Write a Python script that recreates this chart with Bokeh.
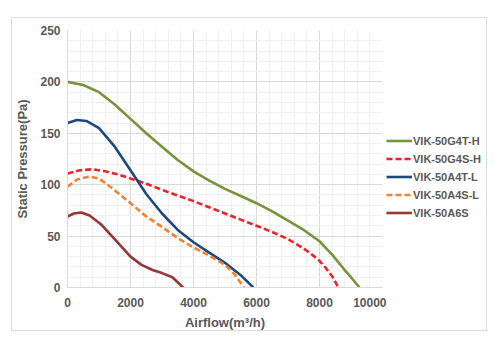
from bokeh.plotting import figure
from bokeh.layouts import row
from bokeh.models import Range1d, Legend, LegendItem, SingleIntervalTicker
from bokeh.embed import file_html
from bokeh.resources import INLINE

# ---- data ----
g4t_h_x = [0, 500, 1000, 1500, 2000, 2500, 3000, 3500, 4000, 4500, 5000, 5500, 6000, 6500, 7000, 7500, 8000, 8400, 8800, 9000, 9270]
g4t_h_y = [200, 197, 190, 178, 164, 150, 137, 124, 113, 104, 96, 89, 82, 74, 65, 56, 45, 32, 17, 10, 0]

g4s_h_x = [0, 400, 800, 1200, 1600, 2000, 2500, 3000, 3500, 4000, 4500, 5000, 5500, 6000, 6500, 7000, 7500, 7800, 8000, 8200, 8400, 8600]
g4s_h_y = [111, 114, 115, 113, 110, 106, 101, 95, 89.5, 84, 78, 72, 66, 60, 54, 47, 38, 31, 26, 19, 11, 0]

a4t_l_x = [0, 300, 600, 1000, 1500, 2000, 2500, 3000, 3500, 4000, 4500, 5000, 5500, 5900]
a4t_l_y = [160, 163, 162, 155, 137, 114, 91, 72, 56, 44, 34, 24, 12, 0]

a4s_l_x = [0, 300, 700, 1000, 1400, 2000, 2500, 3000, 3500, 4000, 4500, 5000, 5300, 5600]
a4s_l_y = [98, 105, 108, 106, 97, 82, 69, 59, 48, 39, 31, 22, 13, 0]

a6s_x = [0, 200, 440, 700, 1080, 1555, 2000, 2350, 2700, 3000, 3330, 3670]
a6s_y = [69, 72, 73, 70, 61, 45, 30, 22, 17, 14, 10, 0]

names = ["VIK-50G4T-H", "VIK-50G4S-H", "VIK-50A4T-L", "VIK-50A4S-L", "VIK-50A6S"]
colors = ["#77933C", "#F0202A", "#1F497D", "#F08232", "#953735"]
dashes = ["solid", "6 3", "solid", "6 3", "solid"]

FONT = "Liberation Sans"
GREY = "#595959"
BORDER = "1px solid #dcdcdc"

series = [(g4t_h_x, g4t_h_y), (g4s_h_x, g4s_h_y), (a4t_l_x, a4t_l_y), (a4s_l_x, a4s_l_y), (a6s_x, a6s_y)]

p = figure(width=375, height=314, output_backend="svg", toolbar_location=None,
           x_range=Range1d(0, 10000), y_range=Range1d(0, 250))
p.styles = {"border-left": BORDER, "border-top": BORDER, "border-bottom": BORDER,
            "box-sizing": "border-box"}
p.min_border_left = 55
p.min_border_right = 5
p.min_border_top = 12
p.min_border_bottom = 43
p.outline_line_color = None
p.background_fill_color = "white"
p.border_fill_color = "white"

p.xaxis.ticker = SingleIntervalTicker(interval=2000, num_minor_ticks=5)
p.yaxis.ticker = SingleIntervalTicker(interval=50, num_minor_ticks=5)

for ax in (p.xaxis[0], p.yaxis[0]):
    ax.major_label_text_font = FONT
    ax.major_label_text_font_style = "bold"
    ax.major_label_text_font_size = "12px"
    ax.major_label_text_color = GREY
    ax.axis_label_text_font = FONT
    ax.axis_label_text_font_style = "bold"
    ax.axis_label_text_font_size = "13px"
    ax.axis_label_text_color = GREY
    ax.axis_line_color = "#d9d9d9"
    ax.major_tick_line_color = None
    ax.minor_tick_line_color = None
    ax.major_tick_out = 0
    ax.major_tick_in = 0

p.xaxis.axis_label = "Airflow(m³/h)"
p.yaxis.axis_label = "Static Pressure(Pa)"
p.xaxis.major_label_standoff = 6
p.yaxis.major_label_standoff = 3
p.xaxis.axis_label_standoff = 5
p.yaxis.axis_label_standoff = 7

p.xgrid.grid_line_color = "#d9d9d9"
p.ygrid.grid_line_color = "#d9d9d9"
p.xgrid.minor_grid_line_color = "#f0f0f0"
p.ygrid.minor_grid_line_color = "#f0f0f0"

for (xs, ys), c, d in zip(series, colors, dashes):
    p.line(xs, ys, line_color=c, line_width=2.6, line_dash=d, line_join="round")

# legend panel: a small figure to the right; its own copies of the series lie outside its view
lg = figure(width=101, height=314, output_backend="svg", toolbar_location=None,
            x_range=Range1d(-2, -1), y_range=Range1d(-2, -1))
lg.styles = {"border-right": BORDER, "border-top": BORDER, "border-bottom": BORDER,
             "box-sizing": "border-box"}
lg.axis.visible = False
lg.grid.visible = False
lg.outline_line_color = None
lg.min_border_left = 0
lg.min_border_right = 0
lg.min_border_top = 0
lg.min_border_bottom = 0
items = []
for (xs, ys), name, c, d in zip(series, names, colors, dashes):
    r = lg.line(xs, ys, line_color=c, line_width=2.6, line_dash=d)
    items.append(LegendItem(label=name, renderers=[r]))

legend = Legend(items=items, location=(0, 66), orientation="vertical",
                background_fill_alpha=0, border_line_color=None,
                glyph_width=26, glyph_height=17, label_height=17,
                label_standoff=1, spacing=1, padding=0, margin=0,
                label_text_font=FONT, label_text_font_style="bold",
                label_text_font_size="11px", label_text_color=GREY)
lg.add_layout(legend, "center")

layout = row(p, lg)
layout.margin = (17, 13, 18, 11)

open("out.html", "w").write(file_html(layout, INLINE))
